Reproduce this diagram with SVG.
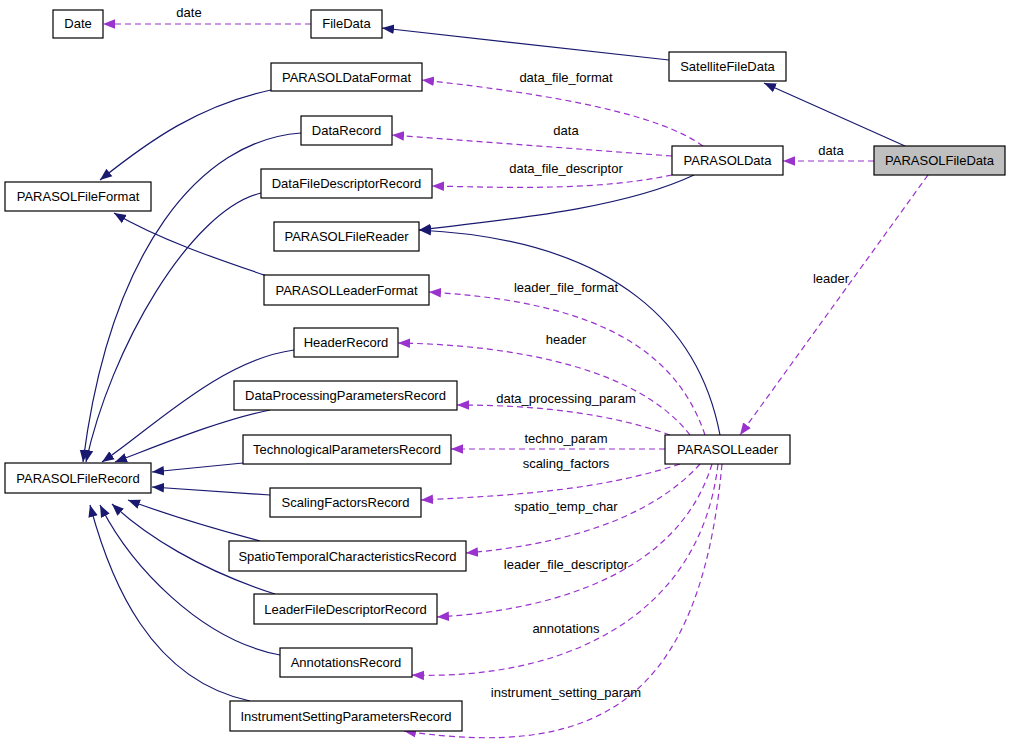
<svg xmlns="http://www.w3.org/2000/svg" width="1011" height="749" viewBox="0 0 1011 749">
<style>
.n rect{fill:#fff;stroke:#000;stroke-width:1.2}
.n text,.l{font-family:"Liberation Sans",Arial,sans-serif;font-size:13px;fill:#000}
.n text{text-anchor:middle}
.l{text-anchor:middle}
.s{fill:none;stroke:#191970;stroke-width:1.2;marker-end:url(#ms)}
.d{fill:none;stroke:#9a32cd;stroke-width:1.2;stroke-dasharray:6,4;marker-end:url(#md)}
</style>
<defs>
<marker id="ms" viewBox="0 0 10 10" refX="10" refY="5" markerWidth="12" markerHeight="12" markerUnits="userSpaceOnUse" orient="auto"><path d="M0,1 L10,5 L0,9 z" fill="#191970"/></marker>
<marker id="md" viewBox="0 0 10 10" refX="10" refY="5" markerWidth="12" markerHeight="12" markerUnits="userSpaceOnUse" orient="auto"><path d="M0,1 L10,5 L0,9 z" fill="#9a32cd"/></marker>
</defs>
<rect width="1011" height="749" fill="#fff"/>
<g id="edges">
<path class="s" d="M669,60 L382,28"/>
<path class="s" d="M905,146 L764,83"/>
<path class="s" d="M271,90 C200,105 150,140 100,180"/>
<path class="s" d="M270,277 C220,260 160,240 114,213"/>
<path class="s" d="M301,133 C200,140 110,250 83,462"/>
<path class="s" d="M261,193 C190,210 110,350 86,462"/>
<path class="s" d="M294,350 C220,360 150,430 102,462"/>
<path class="s" d="M270,410 C220,420 160,445 115,462"/>
<path class="s" d="M243,463 L152,472"/>
<path class="s" d="M270,495 L152,487"/>
<path class="s" d="M260,541 C200,525 160,512 128,500"/>
<path class="s" d="M275,594 C200,570 145,535 112,504"/>
<path class="s" d="M280,655 C200,640 130,565 100,505"/>
<path class="s" d="M250,701 C150,680 110,580 90,505"/>
<path class="s" d="M694,175 C620,210 500,220 419,230"/>
<path class="s" d="M720,435 C700,330 620,240 419,230"/>
<path class="d" d="M311,24 L103,24"/>
<path class="d" d="M703,146 C660,115 560,95 422,80"/>
<path class="d" d="M672,156 L392,135"/>
<path class="d" d="M672,175 C600,190 520,188 432,186"/>
<path class="d" d="M874,161 L783,161"/>
<path class="d" d="M928,175 L740,435"/>
<path class="d" d="M705,435 C670,330 560,300 429,292"/>
<path class="d" d="M690,435 C640,370 520,345 398,343"/>
<path class="d" d="M670,435 C600,410 520,405 457,405"/>
<path class="d" d="M665,449 L451,449"/>
<path class="d" d="M680,464 C600,490 520,495 421,500"/>
<path class="d" d="M700,464 C650,520 560,545 466,553"/>
<path class="d" d="M712,464 C680,570 560,610 437,617"/>
<path class="d" d="M718,464 C700,620 560,680 412,675"/>
<path class="d" d="M722,464 C700,700 600,760 404,731"/>
<text class="l" x="189" y="17">date</text>
<text class="l" x="566" y="82">data_file_format</text>
<text class="l" x="566" y="135">data</text>
<text class="l" x="566" y="173">data_file_descriptor</text>
<text class="l" x="831" y="155">data</text>
<text class="l" x="831" y="283">leader</text>
<text class="l" x="566" y="292">leader_file_format</text>
<text class="l" x="566" y="344">header</text>
<text class="l" x="566" y="403">data_processing_param</text>
<text class="l" x="566" y="443">techno_param</text>
<text class="l" x="566" y="468">scaling_factors</text>
<text class="l" x="566" y="511">spatio_temp_char</text>
<text class="l" x="566" y="569">leader_file_descriptor</text>
<text class="l" x="566" y="633">annotations</text>
<text class="l" x="566" y="697">instrument_setting_param</text>
</g>
<g id="Date" class="n"><rect x="53" y="10" width="50" height="28"/><text x="78" y="28">Date</text></g>
<g id="FileData" class="n"><rect x="311" y="10" width="71" height="28"/><text x="346.5" y="28">FileData</text></g>
<g id="SatelliteFileData" class="n"><rect x="669" y="52" width="117" height="29"/><text x="727.5" y="71">SatelliteFileData</text></g>
<g id="PARASOLDataFormat" class="n"><rect x="271" y="63" width="151" height="28"/><text x="346.5" y="82">PARASOLDataFormat</text></g>
<g id="DataRecord" class="n"><rect x="301" y="116" width="91" height="29"/><text x="346.5" y="135">DataRecord</text></g>
<g id="PARASOLData" class="n"><rect x="672" y="146" width="111" height="29"/><text x="727.5" y="165">PARASOLData</text></g>
<g id="PARASOLFileData" class="n"><rect x="874" y="146" width="131" height="29" style="fill:#bfbfbf"/><text x="939.5" y="165">PARASOLFileData</text></g>
<g id="PARASOLFileFormat" class="n"><rect x="5" y="182" width="146" height="29"/><text x="78" y="201">PARASOLFileFormat</text></g>
<g id="DataFileDescriptorRecord" class="n"><rect x="261" y="169" width="171" height="29"/><text x="346.5" y="188">DataFileDescriptorRecord</text></g>
<g id="PARASOLFileReader" class="n"><rect x="274" y="222" width="145" height="29"/><text x="346.5" y="241">PARASOLFileReader</text></g>
<g id="PARASOLLeaderFormat" class="n"><rect x="264" y="275" width="165" height="30"/><text x="346.5" y="295">PARASOLLeaderFormat</text></g>
<g id="HeaderRecord" class="n"><rect x="294" y="328" width="104" height="29"/><text x="346" y="347">HeaderRecord</text></g>
<g id="DataProcessingParametersRecord" class="n"><rect x="234" y="381" width="223" height="29"/><text x="345.5" y="400">DataProcessingParametersRecord</text></g>
<g id="TechnologicalParametersRecord" class="n"><rect x="243" y="435" width="208" height="29"/><text x="347" y="454">TechnologicalParametersRecord</text></g>
<g id="PARASOLLeader" class="n"><rect x="665" y="435" width="125" height="29"/><text x="727.5" y="454">PARASOLLeader</text></g>
<g id="PARASOLFileRecord" class="n"><rect x="5" y="463" width="146" height="30"/><text x="78" y="483">PARASOLFileRecord</text></g>
<g id="ScalingFactorsRecord" class="n"><rect x="270" y="488" width="151" height="29"/><text x="345.5" y="507">ScalingFactorsRecord</text></g>
<g id="SpatioTemporalCharacteristicsRecord" class="n"><rect x="229" y="541" width="237" height="30"/><text x="347.5" y="561">SpatioTemporalCharacteristicsRecord</text></g>
<g id="LeaderFileDescriptorRecord" class="n"><rect x="254" y="594" width="183" height="30"/><text x="345.5" y="614">LeaderFileDescriptorRecord</text></g>
<g id="AnnotationsRecord" class="n"><rect x="280" y="648" width="132" height="29"/><text x="346" y="667">AnnotationsRecord</text></g>
<g id="InstrumentSettingParametersRecord" class="n"><rect x="230" y="701" width="232" height="30"/><text x="346" y="721">InstrumentSettingParametersRecord</text></g>
</svg>
